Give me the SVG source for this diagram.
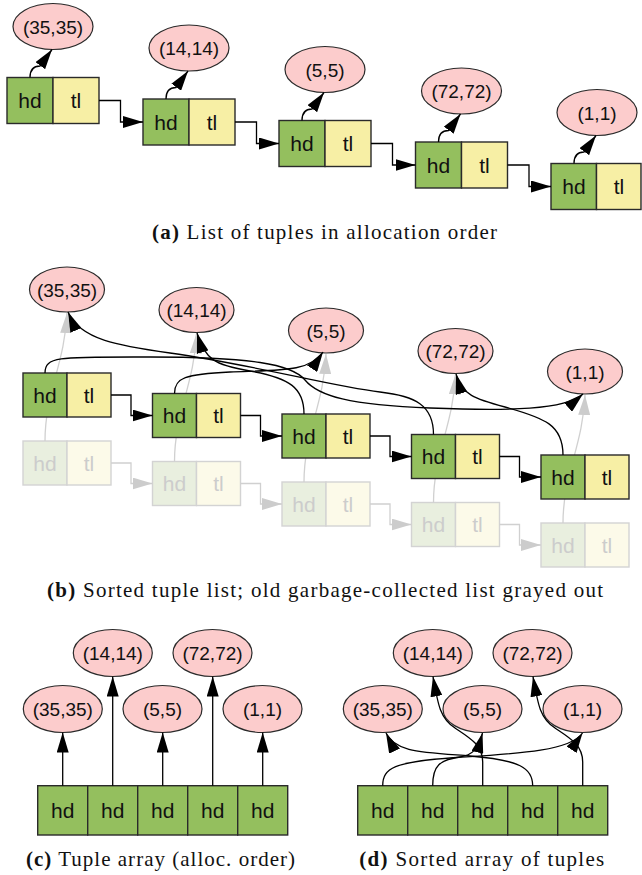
<svg xmlns="http://www.w3.org/2000/svg" width="642" height="875" viewBox="0 0 642 875">
<style>
.hd{fill:#94BF5E;stroke:#2a2a2a;stroke-width:1.4}
.tl{fill:#F7EFA5;stroke:#2a2a2a;stroke-width:1.4}
.ghd{fill:#E9EFDF;stroke:#D3D3D3;stroke-width:1.4}
.gtl{fill:#FCFAE9;stroke:#D3D3D3;stroke-width:1.4}
.el{fill:#FCCCCC;stroke:#2a2a2a;stroke-width:1.2}
.t{font-family:"Liberation Sans",Arial,sans-serif;font-size:21px;fill:#111;text-anchor:middle}
.gt{font-family:"Liberation Sans",Arial,sans-serif;font-size:21px;fill:#CCCCCC;text-anchor:middle}
.et{font-family:"Liberation Sans",Arial,sans-serif;font-size:19px;fill:#111;text-anchor:middle}
.cap{font-family:"Liberation Serif","Times New Roman",serif;font-size:21px;fill:#111;text-anchor:middle}
.cap tspan.b{font-weight:bold}
.c{fill:none;stroke:#000;stroke-width:1.3;marker-end:url(#arr)}
.g{fill:none;stroke:#D0D0D0;stroke-width:1.3;marker-end:url(#arrg)}
</style>
<defs>
<marker id="arr" viewBox="0 0 20 12" refX="20" refY="6" markerWidth="20" markerHeight="12" markerUnits="userSpaceOnUse" orient="auto"><path d="M0,0 L20,6 L0,12 z" fill="#000"/></marker>
<marker id="arrg" viewBox="0 0 20 12" refX="20" refY="6" markerWidth="20" markerHeight="12" markerUnits="userSpaceOnUse" orient="auto"><path d="M0,0 L20,6 L0,12 z" fill="#CCCCCC"/></marker>
</defs>
<rect width="642" height="875" fill="#fff"/>

<!-- ===== (a) ===== -->
<g id="a-e1"><ellipse class="el" cx="53" cy="26.5" rx="40" ry="23"/><text class="et" x="53" y="33.5">(35,35)</text></g>
<g id="a-e2"><ellipse class="el" cx="189" cy="48" rx="40" ry="23"/><text class="et" x="189" y="55">(14,14)</text></g>
<g id="a-e3"><ellipse class="el" cx="325" cy="69.5" rx="40" ry="23"/><text class="et" x="325" y="76.5">(5,5)</text></g>
<g id="a-e4"><ellipse class="el" cx="461.5" cy="91" rx="40" ry="23"/><text class="et" x="461.5" y="98">(72,72)</text></g>
<g id="a-e5"><ellipse class="el" cx="597" cy="112.5" rx="40" ry="23"/><text class="et" x="597" y="119.5">(1,1)</text></g>

<g id="a-n1"><rect class="hd" x="7" y="77.5" width="46" height="46"/><rect class="tl" x="53" y="77.5" width="46" height="46"/><text class="t" x="30" y="108">hd</text><text class="t" x="76" y="108">tl</text></g>
<g id="a-n2"><rect class="hd" x="143" y="99" width="46" height="46"/><rect class="tl" x="189" y="99" width="46" height="46"/><text class="t" x="166" y="129.5">hd</text><text class="t" x="212" y="129.5">tl</text></g>
<g id="a-n3"><rect class="hd" x="279" y="120.5" width="46" height="46"/><rect class="tl" x="325" y="120.5" width="46" height="46"/><text class="t" x="302" y="151">hd</text><text class="t" x="348" y="151">tl</text></g>
<g id="a-n4"><rect class="hd" x="415.5" y="142" width="46" height="46"/><rect class="tl" x="461.5" y="142" width="46" height="46"/><text class="t" x="438.5" y="172.5">hd</text><text class="t" x="484.5" y="172.5">tl</text></g>
<g id="a-n5"><rect class="hd" x="551" y="163.5" width="45.5" height="46"/><rect class="tl" x="596.5" y="163.5" width="44.5" height="46"/><text class="t" x="574" y="194">hd</text><text class="t" x="619" y="194">tl</text></g>

<g id="a-connectors">
<path class="c" d="M30,77.5 C30,69.5 33,66 40,66 L52,49.5"/>
<path class="c" d="M166,99 C166,91 169,87.5 176,87.5 L188,71"/>
<path class="c" d="M302,120.5 C302,112.5 305,109 312,109 L324,92.5"/>
<path class="c" d="M438.5,142 C438.5,134 441.5,130.5 448.5,130.5 L460.5,114"/>
<path class="c" d="M574,163.5 C574,155.5 577,152 584,152 L596,135.5"/>
<path class="c" d="M99,100.5 H120.5 V122 H143"/>
<path class="c" d="M235,122 H256.5 V143.5 H279"/>
<path class="c" d="M371,143.5 H392.5 V165 H415.5"/>
<path class="c" d="M507.5,165 H529 V186.5 H551"/>
</g>
<text class="cap" x="324.5" y="239" textLength="345" lengthAdjust="spacing"><tspan class="b">(a)</tspan> List of tuples in allocation order</text>

<!-- ===== (b) ===== -->
<g id="b-g1"><rect class="ghd" x="23" y="441" width="44" height="44"/><rect class="gtl" x="67" y="441" width="44" height="44"/><text class="gt" x="45" y="470.5">hd</text><text class="gt" x="89" y="470.5">tl</text></g>
<g id="b-g2"><rect class="ghd" x="152.5" y="461.5" width="44" height="44"/><rect class="gtl" x="196.5" y="461.5" width="44" height="44"/><text class="gt" x="174.5" y="491">hd</text><text class="gt" x="218.5" y="491">tl</text></g>
<g id="b-g3"><rect class="ghd" x="282" y="482" width="44" height="44"/><rect class="gtl" x="326" y="482" width="44" height="44"/><text class="gt" x="304" y="511.5">hd</text><text class="gt" x="348" y="511.5">tl</text></g>
<g id="b-g4"><rect class="ghd" x="411.5" y="502.5" width="44" height="44"/><rect class="gtl" x="455.5" y="502.5" width="44" height="44"/><text class="gt" x="433.5" y="532">hd</text><text class="gt" x="477.5" y="532">tl</text></g>
<g id="b-g5"><rect class="ghd" x="541" y="523" width="44" height="44"/><rect class="gtl" x="585" y="523" width="44" height="44"/><text class="gt" x="563" y="552.5">hd</text><text class="gt" x="607" y="552.5">tl</text></g>

<g id="b-old-connectors">
<path class="g" d="M45,441 C45,393 65,363 67,313"/>
<path class="g" d="M174.5,461.5 C174.5,413.5 194.5,383.5 196.5,333.5"/>
<path class="g" d="M304,482 C304,434 324,404 326,354"/>
<path class="g" d="M433.5,502.5 C433.5,454.5 453.5,424.5 455.5,374.5"/>
<path class="g" d="M563,523 C563,475 583,445 585,395"/>
<path class="g" d="M111,463 H131 V483.5 H152.5"/>
<path class="g" d="M240.5,483.5 H260.5 V504 H282"/>
<path class="g" d="M370,504 H390 V524.5 H411.5"/>
<path class="g" d="M499.5,524.5 H519.5 V545 H541"/>
</g>

<g id="b-e1"><ellipse class="el" cx="67" cy="289.5" rx="37.5" ry="22.5"/><text class="et" x="67" y="296.5">(35,35)</text></g>
<g id="b-e2"><ellipse class="el" cx="196.5" cy="310" rx="37.5" ry="22.5"/><text class="et" x="196.5" y="317">(14,14)</text></g>
<g id="b-e3"><ellipse class="el" cx="326" cy="330.5" rx="37.5" ry="22.5"/><text class="et" x="326" y="337.5">(5,5)</text></g>
<g id="b-e4"><ellipse class="el" cx="455.5" cy="351" rx="37.5" ry="22.5"/><text class="et" x="455.5" y="358">(72,72)</text></g>
<g id="b-e5"><ellipse class="el" cx="585" cy="371.5" rx="37.5" ry="22.5"/><text class="et" x="585" y="378.5">(1,1)</text></g>

<g id="b-n1"><rect class="hd" x="23" y="373" width="44" height="44"/><rect class="tl" x="67" y="373" width="44" height="44"/><text class="t" x="45" y="402.5">hd</text><text class="t" x="89" y="402.5">tl</text></g>
<g id="b-n2"><rect class="hd" x="152.5" y="393.5" width="44" height="44"/><rect class="tl" x="196.5" y="393.5" width="44" height="44"/><text class="t" x="174.5" y="423">hd</text><text class="t" x="218.5" y="423">tl</text></g>
<g id="b-n3"><rect class="hd" x="282" y="414" width="44" height="44"/><rect class="tl" x="326" y="414" width="44" height="44"/><text class="t" x="304" y="443.5">hd</text><text class="t" x="348" y="443.5">tl</text></g>
<g id="b-n4"><rect class="hd" x="411.5" y="434.5" width="44" height="44"/><rect class="tl" x="455.5" y="434.5" width="44" height="44"/><text class="t" x="433.5" y="464">hd</text><text class="t" x="477.5" y="464">tl</text></g>
<g id="b-n5"><rect class="hd" x="541" y="455" width="44" height="44"/><rect class="tl" x="585" y="455" width="44" height="44"/><text class="t" x="563" y="484.5">hd</text><text class="t" x="607" y="484.5">tl</text></g>

<g id="b-connectors">
<path class="c" d="M111,395 H131 V415.5 H152.5"/>
<path class="c" d="M240.5,415.5 H260.5 V436 H282"/>
<path class="c" d="M370,436 H390 V456.5 H411.5"/>
<path class="c" d="M499.5,456.5 H519.5 V477 H541"/>
<path class="c" d="M45,373 C45,356 60,357 150,357 C250,357 292,364 305,380 C318,396 350,405 430,408 C510,411 565,410 583,394"/>
<path class="c" d="M174.5,393.5 C174.5,378 185,374 230,372 C280,370 310,372 323,352"/>
<path class="c" d="M304,414 C304,388 290,378 250,371 C215,365 205,360 197,333"/>
<path class="c" d="M433.5,434.5 C433.5,405 415,396 380,392 C330,386 260,366 170,353 C120,346 80,340 68,312"/>
<path class="c" d="M563,455 C563,425 545,418 505,407 C475,399 462,395 456,374"/>
</g>
<text class="cap" x="325" y="597" textLength="556" lengthAdjust="spacing"><tspan class="b">(b)</tspan> Sorted tuple list; old garbage-collected list grayed out</text>

<!-- ===== (c) ===== -->
<g id="c-e1"><ellipse class="el" cx="62.8" cy="709" rx="39.5" ry="23.5"/><text class="et" x="62.8" y="716">(35,35)</text></g>
<g id="c-e2"><ellipse class="el" cx="112.8" cy="653" rx="39.5" ry="23.5"/><text class="et" x="112.8" y="660">(14,14)</text></g>
<g id="c-e3"><ellipse class="el" cx="162.5" cy="709" rx="39.5" ry="23.5"/><text class="et" x="162.5" y="716">(5,5)</text></g>
<g id="c-e4"><ellipse class="el" cx="212.5" cy="653" rx="39.5" ry="23.5"/><text class="et" x="212.5" y="660">(72,72)</text></g>
<g id="c-e5"><ellipse class="el" cx="262.5" cy="709" rx="39.5" ry="23.5"/><text class="et" x="262.5" y="716">(1,1)</text></g>
<g id="c-array">
<rect class="hd" x="37.7" y="785.7" width="50" height="49.3"/><text class="t" x="62.7" y="818">hd</text>
<rect class="hd" x="87.7" y="785.7" width="50" height="49.3"/><text class="t" x="112.7" y="818">hd</text>
<rect class="hd" x="137.7" y="785.7" width="50" height="49.3"/><text class="t" x="162.7" y="818">hd</text>
<rect class="hd" x="187.7" y="785.7" width="50" height="49.3"/><text class="t" x="212.7" y="818">hd</text>
<rect class="hd" x="237.7" y="785.7" width="50" height="49.3"/><text class="t" x="262.7" y="818">hd</text>
</g>
<g id="c-connectors">
<path class="c" d="M62.7,785.7 V732.5"/>
<path class="c" d="M112.7,785.7 V676.5"/>
<path class="c" d="M162.7,785.7 V732.5"/>
<path class="c" d="M212.7,785.7 V676.5"/>
<path class="c" d="M262.7,785.7 V732.5"/>
</g>
<text class="cap" x="160.5" y="866" textLength="269" lengthAdjust="spacing"><tspan class="b">(c)</tspan> Tuple array (alloc. order)</text>

<!-- ===== (d) ===== -->
<g id="d-e1"><ellipse class="el" cx="382.8" cy="709" rx="39.5" ry="23.5"/><text class="et" x="382.8" y="716">(35,35)</text></g>
<g id="d-e2"><ellipse class="el" cx="432.8" cy="653" rx="39.5" ry="23.5"/><text class="et" x="432.8" y="660">(14,14)</text></g>
<g id="d-e3"><ellipse class="el" cx="482.5" cy="709" rx="39.5" ry="23.5"/><text class="et" x="482.5" y="716">(5,5)</text></g>
<g id="d-e4"><ellipse class="el" cx="532.5" cy="653" rx="39.5" ry="23.5"/><text class="et" x="532.5" y="660">(72,72)</text></g>
<g id="d-e5"><ellipse class="el" cx="582.5" cy="709" rx="39.5" ry="23.5"/><text class="et" x="582.5" y="716">(1,1)</text></g>
<g id="d-array">
<rect class="hd" x="357.7" y="785.7" width="50" height="49.3"/><text class="t" x="382.7" y="818">hd</text>
<rect class="hd" x="407.7" y="785.7" width="50" height="49.3"/><text class="t" x="432.7" y="818">hd</text>
<rect class="hd" x="457.7" y="785.7" width="50" height="49.3"/><text class="t" x="482.7" y="818">hd</text>
<rect class="hd" x="507.7" y="785.7" width="50" height="49.3"/><text class="t" x="532.7" y="818">hd</text>
<rect class="hd" x="557.7" y="785.7" width="50" height="49.3"/><text class="t" x="582.7" y="818">hd</text>
</g>
<g id="d-connectors">
<path class="c" d="M382.7,785.7 C382.7,768 395,762 450,758 C510,754 570,752 582.5,733"/>
<path class="c" d="M432.7,785.7 C432.7,765 440,760 460,757 C472,755 478,750 482.5,733"/>
<path class="c" d="M482.7,785.7 V762 C482.7,745 470,738 455,728 C440,718 438,705 433,676.5"/>
<path class="c" d="M532.7,785.7 C532.7,768 520,760 470,756 C420,752 395,752 386,733"/>
<path class="c" d="M582.7,785.7 V762 C582.7,745 570,738 555,728 C540,718 538,705 533,676.5"/>
</g>
<text class="cap" x="481.8" y="866" textLength="245" lengthAdjust="spacing"><tspan class="b">(d)</tspan> Sorted array of tuples</text>
</svg>
